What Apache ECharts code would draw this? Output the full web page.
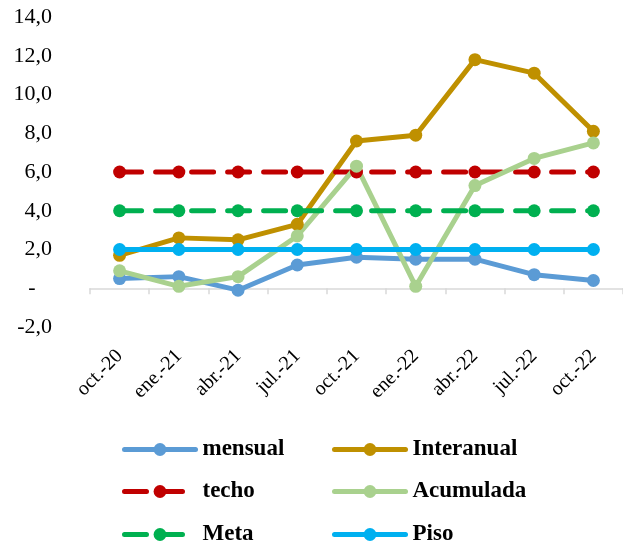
<!DOCTYPE html>
<html>
<head>
<meta charset="utf-8">
<script src="https://cdn.jsdelivr.net/npm/echarts@6/dist/echarts.min.js"></script>
<style>
  html, body { margin: 0; padding: 0; background: #fff; }
  #chart { width: 623px; height: 546px; }
</style>
</head>
<body>
<div id="chart"></div>
<script>
const categories = ['oct.-20', 'ene.-21', 'abr.-21', 'jul.-21', 'oct.-21', 'ene.-22', 'abr.-22', 'jul.-22', 'oct.-22']
const mensual = [0.5, 0.6, -0.1, 1.2, 1.6, 1.5, 1.5, 0.7, 0.4]
const interanual = [1.7, 2.6, 2.5, 3.3, 7.6, 7.9, 11.8, 11.1, 8.1]
const acumulada = [0.9, 0.1, 0.6, 2.7, 6.3, 0.1, 5.3, 6.7, 7.5]
const techo = [6, 6, 6, 6, 6, 6, 6, 6, 6]
const meta = [4, 4, 4, 4, 4, 4, 4, 4, 4]
const piso = [2, 2, 2, 2, 2, 2, 2, 2, 2]

const chart = echarts.init(document.getElementById('chart'))
const serif = '"Liberation Serif", "Times New Roman", serif'

function makeLine(name, data, color, dashed) {
  return {
    name: name,
    type: 'line',
    data: data,
    xAxisIndex: 0,
    symbol: 'circle',
    symbolSize: 13,
    itemStyle: { color: color },
    lineStyle: {
      color: color,
      width: 5,
      type: dashed ? [22, 14] : 'solid',
      cap: 'round'
    },
    emphasis: { disabled: true }
  }
}

// one legend per item so the 2x3 grid sits exactly
function legendItem(name, left, top) {
  return {
    data: [name],
    left: left,
    top: top,
    padding: 0,
    itemWidth: 71,
    itemHeight: 16,
    lineStyle: { width: 5 },
    textStyle: { fontFamily: serif, fontSize: 23, fontWeight: 'bold', color: '#000', padding: [0, 0, 0, 2] }
  }
}

chart.setOption({
  animation: false,
  grid: { left: 90, top: 17, width: 540, height: 310 },
  legend: [
    legendItem('mensual', 122, 438),
    legendItem('Interanual', 332, 438),
    legendItem('techo', 122, 480),
    legendItem('Acumulada', 332, 480),
    legendItem('Meta', 122, 523),
    legendItem('Piso', 332, 523)
  ],
  xAxis: [
    {
      type: 'category',
      data: categories,
      axisLine: { onZero: true, lineStyle: { color: '#D9D9D9', width: 1.5 } },
      axisTick: { show: true, length: 6, lineStyle: { color: '#D9D9D9', width: 1.5 } },
      axisLabel: { show: false }
    },
    {
      type: 'category',
      data: categories,
      position: 'bottom',
      axisLine: { show: false, onZero: false },
      axisTick: { show: false },
      axisLabel: {
        rotate: 45,
        margin: 26,
        fontFamily: serif,
        fontSize: 20,
        color: '#000'
      }
    }
  ],
  yAxis: {
    type: 'value',
    min: -2,
    max: 14,
    interval: 2,
    axisLine: { show: false },
    axisTick: { show: false },
    splitLine: { show: false },
    axisLabel: {
      margin: 38,
      fontFamily: serif,
      fontSize: 22,
      color: '#000',
      formatter: v => v === 0 ? '-   ' : v.toFixed(1).replace('.', ',')
    }
  },
  series: [
    makeLine('mensual', mensual, '#5B9BD5', false),
    makeLine('Interanual', interanual, '#BF9000', false),
    makeLine('techo', techo, '#C00000', true),
    makeLine('Acumulada', acumulada, '#A9D18E', false),
    makeLine('Meta', meta, '#00B050', true),
    makeLine('Piso', piso, '#00B0F0', false)
  ]
})
</script>
</body>
</html>
